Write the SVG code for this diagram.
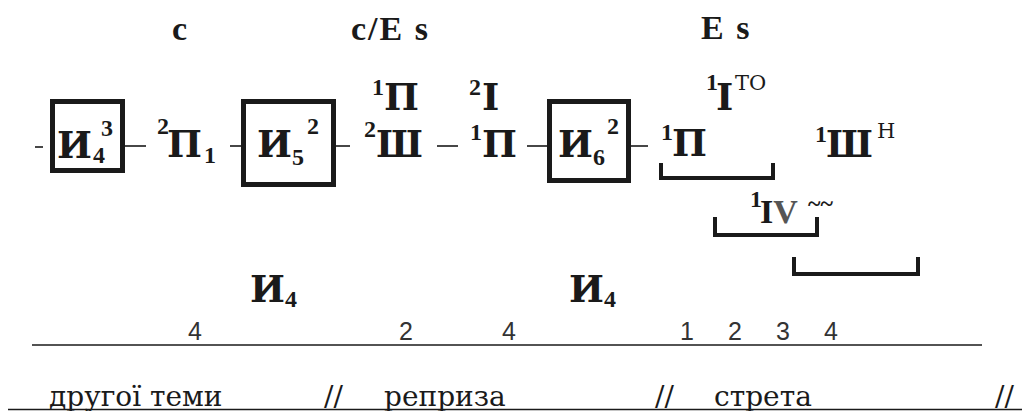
<svg xmlns="http://www.w3.org/2000/svg" width="1022" height="411" viewBox="0 0 1022 411">
  <style>
    .hd { font-family: "Liberation Serif", serif; font-weight: bold; font-size: 34px; }
    .g  { font-family: "DejaVu Serif", serif; font-weight: bold; font-size: 37px; }
    .sp { font-family: "Liberation Serif", serif; font-weight: bold; font-size: 24px; }
    .sn { font-family: "DejaVu Serif", serif; font-size: 21px; }
    .dg { font-family: "Liberation Sans", sans-serif; font-size: 25px; fill: #333; }
    .lb { font-family: "DejaVu Serif", serif; font-size: 28px; }
    .box { fill: none; stroke: #1a1a1a; stroke-width: 5; }
    .ln { stroke: #1a1a1a; stroke-width: 1.6; fill: none; }
    .br { stroke: #1a1a1a; stroke-width: 4; fill: none; }
  </style>

  <g fill="#1a1a1a">
  <!-- key headings -->
  <g id="headings">
    <text class="hd" x="172" y="40">c</text>
    <text class="hd" x="351" y="40" letter-spacing="2">c/E s</text>
    <text class="hd" x="701" y="39" letter-spacing="2">E s</text>
  </g>

  <!-- connectors between the chain elements -->
  <g id="connectors">
    <line class="ln" x1="35" y1="147" x2="43" y2="147" stroke-width="3"/>
    <line class="ln" x1="125" y1="146" x2="146" y2="146"/>
    <line class="ln" x1="230" y1="146" x2="243" y2="146"/>
    <line class="ln" x1="336" y1="146" x2="350" y2="146"/>
    <line class="ln" x1="437" y1="146" x2="458" y2="146"/>
    <line class="ln" x1="527" y1="146" x2="547" y2="146"/>
    <line class="ln" x1="631" y1="146" x2="648" y2="146"/>
  </g>

  <g id="node-i4">
    <rect class="box" x="52.5" y="101.5" width="70" height="69"/>
    <text class="g" x="57" y="158">И</text>
    <text class="sp" x="93" y="163">4</text>
    <text class="sp" x="101" y="136">3</text>
  </g>

  <g id="node-p2">
    <text class="sp" x="157" y="134">2</text>
    <text class="g" x="167" y="157">П</text>
    <text class="sp" x="204" y="163">1</text>
  </g>

  <g id="node-i5">
    <rect class="box" x="243.5" y="101.5" width="90" height="83"/>
    <text class="g" x="257" y="157">И</text>
    <text class="sp" x="292" y="165">5</text>
    <text class="sp" x="307" y="134">2</text>
  </g>

  <g id="node-sh2">
    <text class="sp" x="372" y="95">1</text>
    <text class="g" x="384" y="110">П</text>
    <text class="sp" x="364" y="137">2</text>
    <text class="g" x="376" y="157">Ш</text>
  </g>

  <g id="node-p1">
    <text class="sp" x="469" y="95">2</text>
    <text class="g" x="482" y="110">І</text>
    <text class="sp" x="470" y="140">1</text>
    <text class="g" x="482" y="157">П</text>
  </g>

  <g id="node-i6">
    <rect class="box" x="549.5" y="101.5" width="79" height="79"/>
    <text class="g" x="558" y="157">И</text>
    <text class="sp" x="593" y="165">6</text>
    <text class="sp" x="607" y="134">2</text>
  </g>

  <g id="node-stretto">
    <text class="sp" x="661" y="140">1</text>
    <text class="g" x="672" y="156">П</text>
    <text class="sp" x="706" y="90">1</text>
    <text class="g" x="716" y="110">І</text>
    <text class="sn" x="735" y="90">ТО</text>
    <text class="sp" x="815" y="142">1</text>
    <text class="g" x="826" y="157">Ш</text>
    <text class="sn" x="877" y="138">Н</text>
    <text class="sp" x="750" y="207">1</text>
    <text class="hd" x="760" y="223" font-size="38">I<tspan fill="#555">V</tspan></text>
    <text class="sp" x="808" y="211" font-size="11">~~</text>
  </g>

  <!-- brackets marking the overlapping entries -->
  <g id="brackets">
    <path class="br" d="M661 163 V178 H773 V163"/>
    <path class="br" d="M715 217 V235 H817 V217"/>
    <path class="br" d="M794 257 V274 H918 V257"/>
  </g>

  <g id="tonic-labels">
    <text class="g" x="250" y="302">И<tspan class="sp" font-size="28" dy="5">4</tspan></text>
    <text class="g" x="569" y="302">И<tspan class="sp" font-size="28" dy="5">4</tspan></text>
  </g>

  <g id="counts">
    <text class="dg" x="188" y="340">4</text>
    <text class="dg" x="399" y="340">2</text>
    <text class="dg" x="502" y="340">4</text>
    <text class="dg" x="680" y="340">1</text>
    <text class="dg" x="728" y="340">2</text>
    <text class="dg" x="776" y="340">3</text>
    <text class="dg" x="824" y="340">4</text>
    <line class="ln" x1="32" y1="345" x2="982" y2="345"/>
  </g>

  <g id="sections">
    <text class="lb" x="49" y="406">другої теми</text>
    <text class="lb" x="324" y="406">//</text>
    <text class="lb" x="384" y="406">реприза</text>
    <text class="lb" x="655" y="406">//</text>
    <text class="lb" x="714" y="406">стрета</text>
    <text class="lb" x="995" y="406">//</text>
    <line class="ln" x1="8" y1="409.5" x2="1022" y2="409.5"/>
  </g>
  </g>
</svg>
